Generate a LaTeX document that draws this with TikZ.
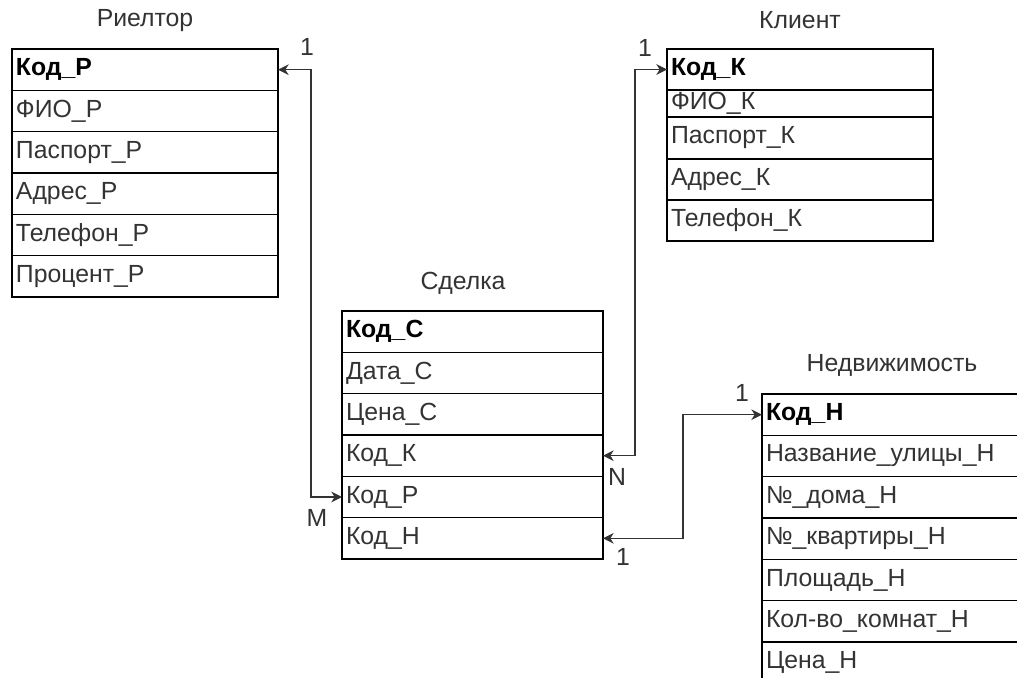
\documentclass[tikz,border=0pt]{standalone}
\usepackage{fontspec}
\setmainfont{Liberation Sans}
\usetikzlibrary{arrows.meta,positioning}
\definecolor{InkGray}{RGB}{51,51,51}
\def\cellfont{\fontsize{18.6}{21}\selectfont}

\begin{document}
\begin{tikzpicture}[x=0.75pt,y=-0.75pt,
  field/.style={draw=black,line width=1pt,rectangle,anchor=north west,inner xsep=3pt,inner ysep=0pt,outer sep=0pt,align=left,text=InkGray,font=\cellfont},
  key/.style={font=\cellfont\bfseries,text=black},
  rl/.style={field,text width=193.5pt,minimum height=31pt},
  kl/.style={field,text width=193.5pt,minimum height=30.75pt},
  sd/.style={field,text width=189.75pt,minimum height=31pt},
  nd/.style={field,text width=189pt,minimum height=31pt},
  title/.style={text=InkGray,font=\cellfont},
  card/.style={text=InkGray,font=\cellfont},
  link/.style={InkGray,line width=1pt,{Stealth[length=8pt,width=8pt,inset=2.5pt]}-{Stealth[length=8pt,width=8pt,inset=2.5pt]}}]

\useasboundingbox (0,0) rectangle (1017,678);
\clip (0,0) rectangle (1017,678);

% Риелтор
\node[title] (rlTitle) at (145,21) {Риелтор};
\node[rl,key] (rlKod) at (12,49) {Код\_Р};
\node[rl] (rlFio) at (rlKod.south west) {ФИО\_Р};
\node[rl] (rlPas) at (rlFio.south west) {Паспорт\_Р};
\node[rl] (rlAdr) at (rlPas.south west) {Адрес\_Р};
\node[rl] (rlTel) at (rlAdr.south west) {Телефон\_Р};
\node[rl] (rlPrc) at (rlTel.south west) {Процент\_Р};

% Клиент
\node[title] (klTitle) at (800,20) {Клиент};
\node[kl,key] (klKod) at (667,49) {Код\_К};
\node[kl,minimum height=20.25pt] (klFio) at (klKod.south west) {ФИО\_К};
\node[kl,minimum height=31.5pt] (klPas) at (klFio.south west) {Паспорт\_К};
\node[kl] (klAdr) at (klPas.south west) {Адрес\_К};
\node[kl] (klTel) at (klAdr.south west) {Телефон\_К};

% Сделка
\node[title] (sdTitle) at (463,283) {Сделка};
\node[sd,key] (sdKod) at (342,311) {Код\_С};
\node[sd] (sdDat) at (sdKod.south west) {Дата\_С};
\node[sd] (sdCen) at (sdDat.south west) {Цена\_С};
\node[sd] (sdK) at (sdCen.south west) {Код\_К};
\node[sd] (sdP) at (sdK.south west) {Код\_Р};
\node[sd] (sdN) at (sdP.south west) {Код\_Н};

% Недвижимость (runs off the page)
\node[title] (ndTitle) at (892,365) {Недвижимость};
\node[nd,key] (ndKod) at (762,394) {Код\_Н};
\node[nd] (ndUl) at (ndKod.south west) {Название\_улицы\_Н};
\node[nd] (ndDom) at (ndUl.south west) {№\_дома\_Н};
\node[nd] (ndKv) at (ndDom.south west) {№\_квартиры\_Н};
\node[nd] (ndPl) at (ndKv.south west) {Площадь\_Н};
\node[nd] (ndKom) at (ndPl.south west) {Кол-во\_комнат\_Н};
\node[nd] (ndCen) at (ndKom.south west) {Цена\_Н};

% links
\draw[link] (sdP.west) -- ++(-31,0) |- (rlKod.east);
\draw[link] (sdK.east) -- ++(32,0) |- (klKod.west);
\draw[link] (sdN.east) -- ++(80,0) |- (ndKod.west);

% cardinalities
\node[card] (cRl) at (307,47) {1};
\node[card] (cSdP) at (317,518) {M};
\node[card] (cKl) at (645,48) {1};
\node[card] (cSdK) at (617,477) {N};
\node[card] (cNd) at (742,393) {1};
\node[card] (cSdN) at (623,557) {1};

\end{tikzpicture}
\end{document}
